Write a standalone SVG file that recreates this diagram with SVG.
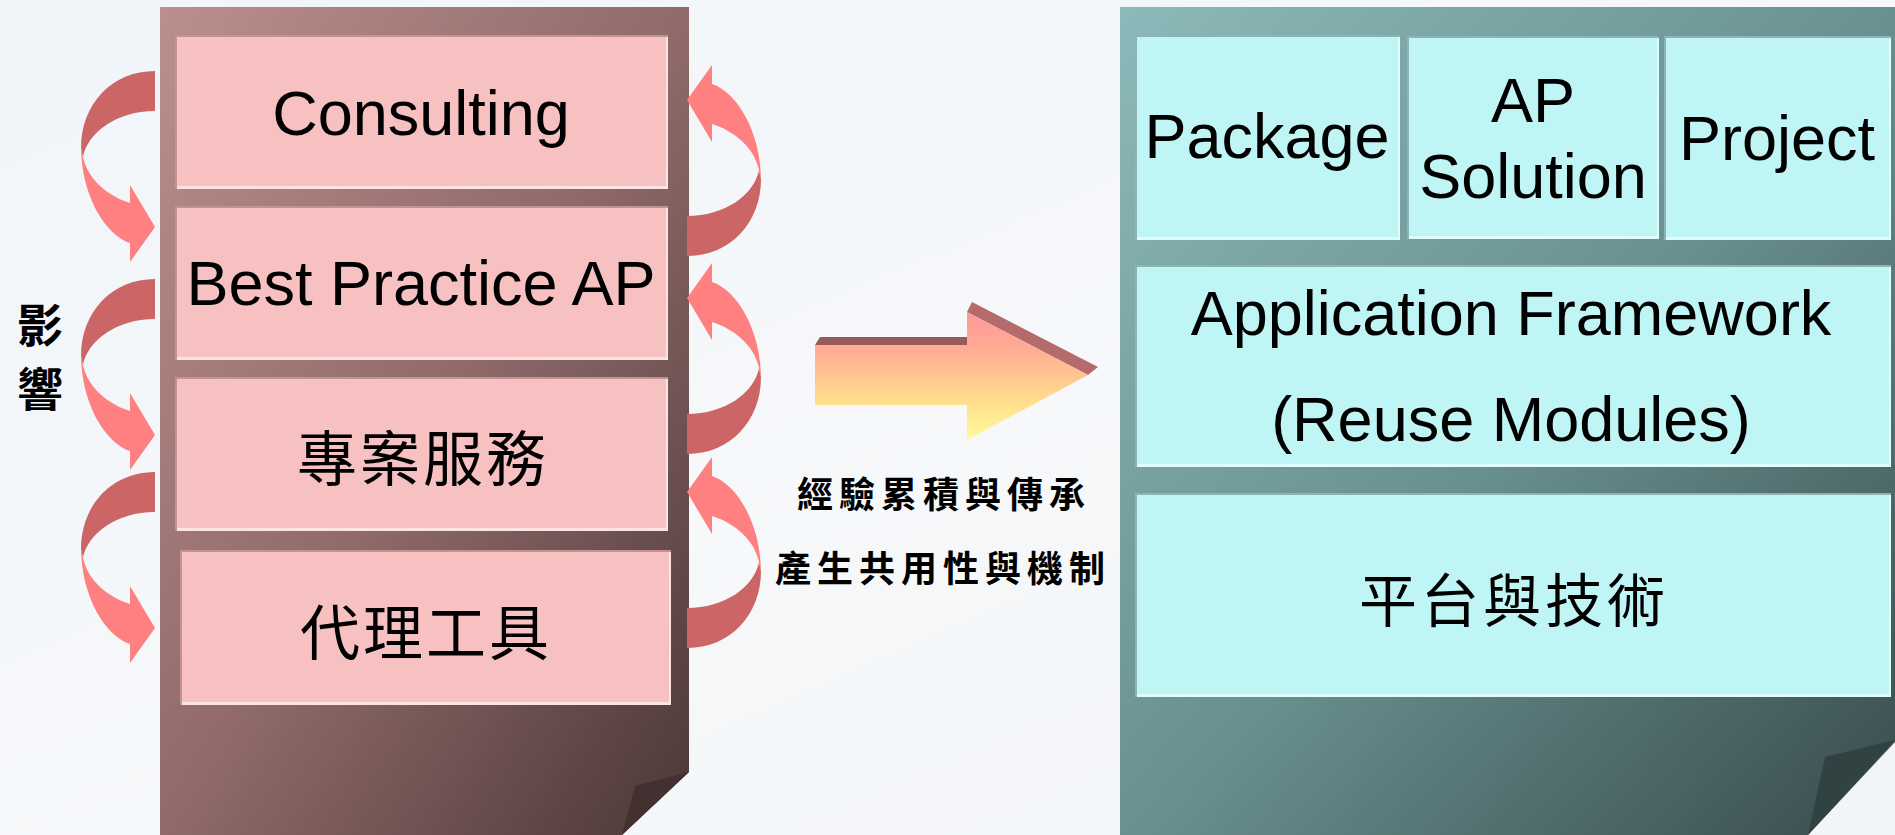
<svg xmlns="http://www.w3.org/2000/svg" xmlns:xlink="http://www.w3.org/1999/xlink" width="1895" height="835" viewBox="0 0 1895 835">
  <defs>
    <style>
      .en { font-family: "Liberation Sans", Arial, sans-serif; font-size: 63px; fill: #000; text-anchor: middle; }
      .zh { font-family: "Noto Sans CJK TC", "Noto Sans CJK SC", sans-serif; fill: #000; text-anchor: middle; }
      .pf { fill: #c29393; }
      .ph { fill: #fde4e4; }
      .pm { fill: #f7c1c1; }
      .cf { fill: #8db3b3; }
      .ch { fill: #e0fdfd; }
      .cm { fill: #c0f5f5; }
      .curl-back { fill: #cc6666; }
      .curl-front { fill: #ff8080; }
    </style>
    <linearGradient id="bg" x1="0" y1="0" x2="1" y2="1">
      <stop offset="0" stop-color="#f1f5f9"/>
      <stop offset="0.5" stop-color="#f6f8fa"/>
      <stop offset="1" stop-color="#f2f5f8"/>
    </linearGradient>
    <linearGradient id="roseBoard" x1="0" y1="0" x2="1" y2="1">
      <stop offset="0" stop-color="#bb8f8d"/>
      <stop offset="0.5" stop-color="#906b6a"/>
      <stop offset="1" stop-color="#4b3737"/>
    </linearGradient>
    <linearGradient id="tealBoard" x1="0" y1="0" x2="1" y2="1">
      <stop offset="0" stop-color="#8cb9b9"/>
      <stop offset="0.5" stop-color="#6a9191"/>
      <stop offset="1" stop-color="#394b4c"/>
    </linearGradient>
    <linearGradient id="blockFace" gradientUnits="userSpaceOnUse" x1="0" y1="312" x2="0" y2="440">
      <stop offset="0" stop-color="#ff9799"/>
      <stop offset="0.3" stop-color="#ffad93"/>
      <stop offset="0.7" stop-color="#ffde8f"/>
      <stop offset="1" stop-color="#fffa99"/>
    </linearGradient>
    <!-- curled ribbon arrow: back band from the tail, front band to the head -->
    <g id="curl">
      <path class="curl-back" d="M155,71 C112,71 81,104 81,148 L83,157 C88,132 117,111 155,111 Z"/>
      <path class="curl-front" d="M81,146 C81,195 105,235 130,243 L130,262 L155,227 L130,185 L130,203 C108,196 88,180 83,157 Z"/>
    </g>
  </defs>

  <rect x="0" y="0" width="1895" height="835" fill="url(#bg)"/>

  <!-- left board -->
  <g id="left-board">
    <path d="M160,7 H689 V772 L622,835 H160 Z" fill="url(#roseBoard)"/>
    <path d="M689,772 L635,786 L622,835 Z" fill="#433030"/>
  </g>

  <g id="node-consulting">
    <rect class="pf" x="175" y="35" width="493" height="154"/>
    <rect class="ph" x="177" y="37" width="491" height="152"/>
    <rect class="pm" x="177" y="37" width="489" height="149"/>
    <text class="en" x="421" y="135">Consulting</text>
  </g>
  <g id="node-best-practice">
    <rect class="pf" x="175" y="206" width="493" height="154"/>
    <rect class="ph" x="177" y="208" width="491" height="152"/>
    <rect class="pm" x="177" y="208" width="489" height="149"/>
    <text class="en" x="421" y="305">Best Practice AP</text>
  </g>
  <g id="node-project-service">
    <rect class="pf" x="175" y="377" width="493" height="154"/>
    <rect class="ph" x="177" y="379" width="491" height="152"/>
    <rect class="pm" x="177" y="379" width="489" height="149"/>
    <text class="zh" x="423" y="481" font-size="60" letter-spacing="3">專案服務</text>
  </g>
  <g id="node-agent-tools">
    <rect class="pf" x="180" y="550" width="491" height="155"/>
    <rect class="ph" x="182" y="552" width="489" height="153"/>
    <rect class="pm" x="182" y="552" width="487" height="150"/>
    <text class="zh" x="426" y="655" font-size="60" letter-spacing="3">代理工具</text>
  </g>

  <!-- right board -->
  <g id="right-board">
    <path d="M1120,7 H1895 V742 L1808,835 H1120 Z" fill="url(#tealBoard)"/>
    <path d="M1895,740 L1825,757 L1808,835 Z" fill="#314242"/>
  </g>

  <g id="node-package">
    <rect class="cf" x="1135" y="35" width="265" height="205"/>
    <rect class="ch" x="1137" y="37" width="263" height="203"/>
    <rect class="cm" x="1137" y="37" width="261" height="200"/>
    <text class="en" x="1267" y="158">Package</text>
  </g>
  <g id="node-ap-solution">
    <rect class="cf" x="1407" y="36" width="252" height="203"/>
    <rect class="ch" x="1409" y="38" width="250" height="201"/>
    <rect class="cm" x="1409" y="38" width="248" height="198"/>
    <text class="en" x="1533" y="122">AP</text>
    <text class="en" x="1533" y="198">Solution</text>
  </g>
  <g id="node-project">
    <rect class="cf" x="1664" y="36" width="227" height="204"/>
    <rect class="ch" x="1666" y="38" width="225" height="202"/>
    <rect class="cm" x="1666" y="38" width="223" height="199"/>
    <text class="en" x="1777" y="160">Project</text>
  </g>
  <g id="node-framework">
    <rect class="cf" x="1135" y="265" width="756" height="202"/>
    <rect class="ch" x="1137" y="267" width="754" height="200"/>
    <rect class="cm" x="1137" y="267" width="752" height="197"/>
    <text class="en" x="1511" y="335">Application Framework</text>
    <text class="en" x="1511" y="441">(Reuse Modules)</text>
  </g>
  <g id="node-platform">
    <rect class="cf" x="1135" y="493" width="756" height="204"/>
    <rect class="ch" x="1137" y="495" width="754" height="202"/>
    <rect class="cm" x="1137" y="495" width="752" height="199"/>
    <text class="zh" x="1514" y="622" font-size="58" letter-spacing="4">平台與技術</text>
  </g>

  <!-- connectors -->
  <g id="connectors">
    <use xlink:href="#curl"/>
    <use xlink:href="#curl" transform="translate(0,208)"/>
    <use xlink:href="#curl" transform="translate(0,401)"/>
    <use xlink:href="#curl" transform="rotate(180 421 163.5)"/>
    <use xlink:href="#curl" transform="translate(0,198) rotate(180 421 163.5)"/>
    <use xlink:href="#curl" transform="translate(0,392) rotate(180 421 163.5)"/>
    <g id="block-arrow">
      <path d="M815,345 L820,337 H972 L967,345 Z" fill="#965a5a"/>
      <path d="M967,312 L972,302 L1098,367 L1088,375 Z" fill="#b56b6b"/>
      <path d="M815,345 H967 V312 L1088,375 L967,440 V405 H815 Z" fill="url(#blockFace)"/>
    </g>
  </g>

  <g id="label-influence">
    <text class="zh" x="40" y="342" font-size="46" font-weight="700">影</text>
    <text class="zh" x="40" y="406" font-size="46" font-weight="700">響</text>
  </g>
  <g id="label-transfer">
    <text class="zh" x="944" y="508" font-size="36" font-weight="700" letter-spacing="6">經驗累積與傳承</text>
    <text class="zh" x="943" y="582" font-size="36" font-weight="700" letter-spacing="6">產生共用性與機制</text>
  </g>
</svg>
